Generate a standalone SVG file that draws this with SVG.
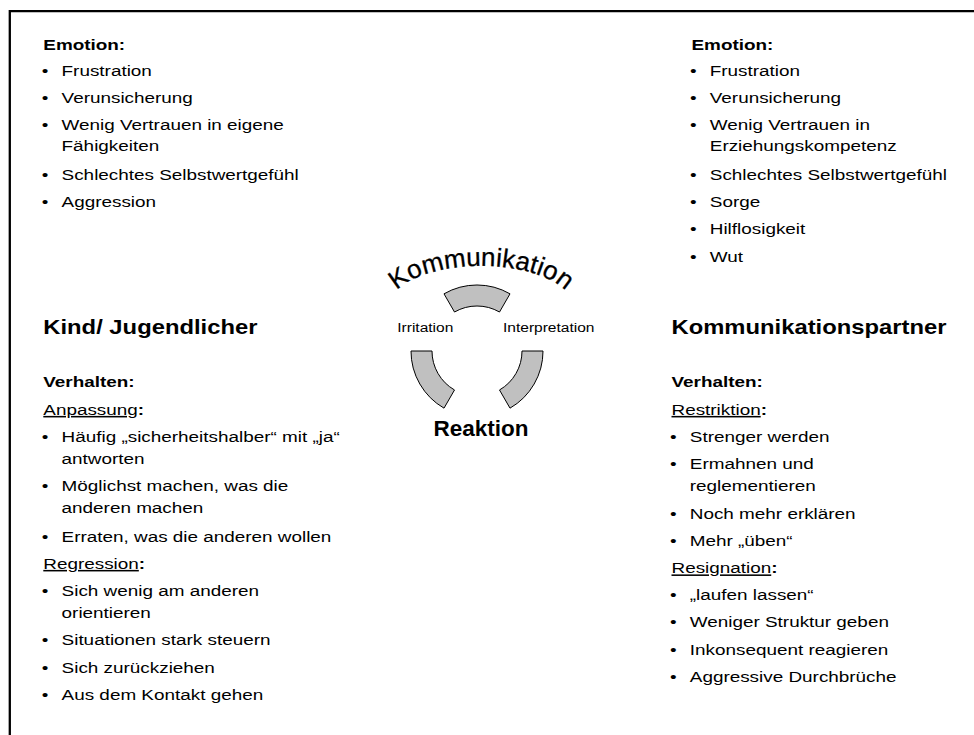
<svg xmlns="http://www.w3.org/2000/svg" width="974" height="735" viewBox="0 0 974 735">
  <defs>
    <style>
      .t { font-family: "Liberation Sans", Arial, sans-serif; font-size: 15.5px; fill: #000; }
      .b { font-weight: bold; }
      .h { font-size: 19.5px; font-weight: bold; }
      .u { text-decoration: underline; }
      .lbl { font-family: "Liberation Sans", Arial, sans-serif; font-size: 13.5px; fill: #000; text-anchor: middle; }
      .seg { fill: #c0c0c0; stroke: #000; stroke-width: 1; }
    </style>
    <!-- arch that carries the title of the cycle -->
    <path id="arch" d="M 389,307 A 92,41 0 0 1 573,307"/>
  </defs>

  <rect x="0" y="0" width="974" height="735" fill="#fff"/>

  <!-- frame edge -->
  <path d="M9.8,735 V11.2 H974" fill="none" stroke="#000" stroke-width="2.3"/>

  <!-- child / adolescent: emotion -->
  <g id="kind-emotion" class="t" transform="translate(43.3,0) scale(1.22,1)">
    <text x="0" y="50" class="b">Emotion:</text>
    <text x="-1.2" y="76">•</text><text x="15" y="76">Frustration</text>
    <text x="-1.2" y="103">•</text><text x="15" y="103">Verunsicherung</text>
    <text x="-1.2" y="130.5">•</text><text x="15" y="130.5">Wenig Vertrauen in eigene</text>
    <text x="15" y="151.5">Fähigkeiten</text>
    <text x="-1.2" y="180">•</text><text x="15" y="180">Schlechtes Selbstwertgefühl</text>
    <text x="-1.2" y="207">•</text><text x="15" y="207">Aggression</text>
  </g>

  <!-- child / adolescent: behaviour -->
  <g id="kind-verhalten" class="t" transform="translate(43.3,0) scale(1.22,1)">
    <text x="0" y="334" class="h">Kind/ Jugendlicher</text>
    <text x="0" y="387" class="b">Verhalten:</text>
    <text x="0" y="415"><tspan class="u">Anpassung</tspan><tspan class="b">:</tspan></text>
    <text x="-1.2" y="442.5">•</text><text x="15" y="442.5">Häufig „sicherheitshalber“ mit „ja“</text>
    <text x="15" y="464">antworten</text>
    <text x="-1.2" y="491.5">•</text><text x="15" y="491.5">Möglichst machen, was die</text>
    <text x="15" y="513">anderen machen</text>
    <text x="-1.2" y="542">•</text><text x="15" y="542">Erraten, was die anderen wollen</text>
    <text x="0" y="569"><tspan class="u">Regression</tspan><tspan class="b">:</tspan></text>
    <text x="-1.2" y="596.5">•</text><text x="15" y="596.5">Sich wenig am anderen</text>
    <text x="15" y="618">orientieren</text>
    <text x="-1.2" y="645.5">•</text><text x="15" y="645.5">Situationen stark steuern</text>
    <text x="-1.2" y="673">•</text><text x="15" y="673">Sich zurückziehen</text>
    <text x="-1.2" y="700.5">•</text><text x="15" y="700.5">Aus dem Kontakt gehen</text>
  </g>

  <!-- partner: emotion -->
  <g id="partner-emotion" class="t" transform="translate(691.5,0) scale(1.22,1)">
    <text x="0" y="50" class="b">Emotion:</text>
    <text x="-1.2" y="76">•</text><text x="15" y="76">Frustration</text>
    <text x="-1.2" y="103">•</text><text x="15" y="103">Verunsicherung</text>
    <text x="-1.2" y="130.5">•</text><text x="15" y="130.5">Wenig Vertrauen in</text>
    <text x="15" y="151.5">Erziehungskompetenz</text>
    <text x="-1.2" y="180">•</text><text x="15" y="180">Schlechtes Selbstwertgefühl</text>
    <text x="-1.2" y="207">•</text><text x="15" y="207">Sorge</text>
    <text x="-1.2" y="234.5">•</text><text x="15" y="234.5">Hilflosigkeit</text>
    <text x="-1.2" y="262">•</text><text x="15" y="262">Wut</text>
  </g>

  <!-- partner: behaviour -->
  <g id="partner-verhalten" class="t" transform="translate(671.5,0) scale(1.22,1)">
    <text x="0" y="334" class="h">Kommunikationspartner</text>
    <text x="0" y="387" class="b">Verhalten:</text>
    <text x="0" y="415"><tspan class="u">Restriktion</tspan><tspan class="b">:</tspan></text>
    <text x="-1.2" y="442.5">•</text><text x="15" y="442.5">Strenger werden</text>
    <text x="-1.2" y="469.5">•</text><text x="15" y="469.5">Ermahnen und</text>
    <text x="15" y="491">reglementieren</text>
    <text x="-1.2" y="519.5">•</text><text x="15" y="519.5">Noch mehr erklären</text>
    <text x="-1.2" y="546.5">•</text><text x="15" y="546.5">Mehr „üben“</text>
    <text x="0" y="573.5"><tspan class="u">Resignation</tspan><tspan class="b">:</tspan></text>
    <text x="-1.2" y="600.5">•</text><text x="15" y="600.5">„laufen lassen“</text>
    <text x="-1.2" y="627.5">•</text><text x="15" y="627.5">Weniger Struktur geben</text>
    <text x="-1.2" y="655">•</text><text x="15" y="655">Inkonsequent reagieren</text>
    <text x="-1.2" y="682.5">•</text><text x="15" y="682.5">Aggressive Durchbrüche</text>
  </g>

  <!-- communication cycle -->
  <g id="kommunikation">
    <text font-family="Liberation Sans, Arial, sans-serif" font-size="26" fill="#000" stroke="#000" stroke-width="0.3">
      <textPath href="#arch" startOffset="50%" text-anchor="middle">Kommunikation</textPath>
    </text>
  </g>

  <g id="connectors">
    <path class="seg" d="M444,293.84 A66,66 0 0 1 510,293.84 L499.5,312.03 A45,45 0 0 0 454.5,312.03 Z"/>
    <path class="seg" d="M543,351 A66,66 0 0 1 510,408.16 L499.5,389.97 A45,45 0 0 0 522,351 Z"/>
    <path class="seg" d="M444,408.16 A66,66 0 0 1 411,351 L432,351 A45,45 0 0 0 454.5,389.97 Z"/>
  </g>

  <g id="irritation">
    <text class="lbl" transform="translate(425.3,331.7) scale(1.15,1)">Irritation</text>
  </g>
  <g id="interpretation">
    <text class="lbl" transform="translate(548.7,331.7) scale(1.15,1)">Interpretation</text>
  </g>
  <g id="reaktion">
    <text x="481" y="436" font-family="Liberation Sans, Arial, sans-serif" font-size="22.5" font-weight="bold" text-anchor="middle" fill="#000">Reaktion</text>
  </g>
</svg>
